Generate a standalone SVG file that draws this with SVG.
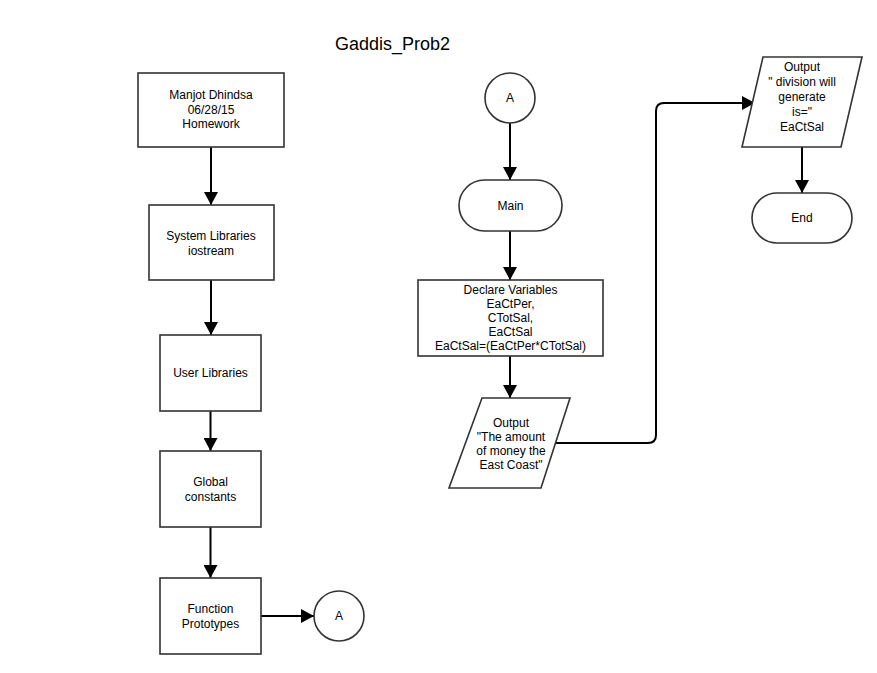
<svg xmlns="http://www.w3.org/2000/svg" width="877" height="673" viewBox="0 0 877 673">
<defs>
<style>
.shape{fill:#fff;stroke:#333;stroke-width:1.6}
.t{font-family:"Liberation Sans",Arial,sans-serif;font-size:12px;fill:#000;text-anchor:middle}
.title{font-family:"Liberation Sans",Arial,sans-serif;font-size:18px;fill:#000}
.c{fill:none;stroke:#000;stroke-width:2}
</style>
<marker id="ah" markerUnits="userSpaceOnUse" markerWidth="14" markerHeight="14" refX="13" refY="7" orient="auto">
<path d="M0,0 L13,7 L0,14 z" fill="#000"/>
</marker>
</defs>
<rect width="877" height="673" fill="#fff"/>
<text class="title" x="335" y="50">Gaddis_Prob2</text>

<g id="connectors">
<path class="c" marker-end="url(#ah)" d="M211,147 V205"/>
<path class="c" marker-end="url(#ah)" d="M211,280 V335"/>
<path class="c" marker-end="url(#ah)" d="M210.5,411 V451"/>
<path class="c" marker-end="url(#ah)" d="M210.5,527 V578"/>
<path class="c" marker-end="url(#ah)" d="M261,616 H314"/>
<path class="c" marker-end="url(#ah)" d="M510,123 V180"/>
<path class="c" marker-end="url(#ah)" d="M510,231 V280"/>
<path class="c" marker-end="url(#ah)" d="M510,356 V398"/>
<path class="c" marker-end="url(#ah)" d="M555,443 H648 Q656,443 656,435 V111 Q656,103 664,103 H755"/>
<path class="c" marker-end="url(#ah)" d="M802,147 V193"/>
</g>

<g id="n-manjot">
<rect class="shape" x="138" y="73" width="146" height="74"/>
<text class="t" x="211" y="99">Manjot Dhindsa</text>
<text class="t" x="211" y="113.5">06/28/15</text>
<text class="t" x="211" y="128">Homework</text>
</g>
<g id="n-syslib">
<rect class="shape" x="149" y="205" width="125" height="75"/>
<text class="t" x="211" y="240">System Libraries</text>
<text class="t" x="211" y="254.5">iostream</text>
</g>
<g id="n-userlib">
<rect class="shape" x="160" y="335" width="101" height="76"/>
<text class="t" x="210.5" y="377">User Libraries</text>
</g>
<g id="n-global">
<rect class="shape" x="160" y="451" width="101" height="76"/>
<text class="t" x="210.5" y="486">Global</text>
<text class="t" x="210.5" y="500.5">constants</text>
</g>
<g id="n-proto">
<rect class="shape" x="160" y="578" width="101" height="76"/>
<text class="t" x="210.5" y="613">Function</text>
<text class="t" x="210.5" y="627.5">Prototypes</text>
</g>
<g id="n-a1">
<circle class="shape" cx="339" cy="616" r="25"/>
<text class="t" x="339" y="620">A</text>
</g>
<g id="n-a2">
<circle class="shape" cx="510" cy="98" r="25"/>
<text class="t" x="510" y="102">A</text>
</g>
<g id="n-main">
<rect class="shape" x="459" y="180" width="103" height="51" rx="25.5" ry="25.5"/>
<text class="t" x="510.5" y="209.5">Main</text>
</g>
<g id="n-declare">
<rect class="shape" x="418" y="280" width="185" height="76"/>
<text class="t" x="510.5" y="294">Declare Variables</text>
<text class="t" x="510.5" y="308">EaCtPer,</text>
<text class="t" x="510.5" y="322">CTotSal,</text>
<text class="t" x="510.5" y="336">EaCtSal</text>
<text class="t" x="510.5" y="350">EaCtSal=(EaCtPer*CTotSal)</text>
</g>
<g id="n-out1">
<polygon class="shape" points="482,398 570,398 541,488 449,488"/>
<text class="t" x="511" y="427">Output</text>
<text class="t" x="511" y="441">"The amount</text>
<text class="t" x="511" y="455">of money the</text>
<text class="t" x="511" y="469">East Coast"</text>
</g>
<g id="n-out2">
<polygon class="shape" points="763,57 862,57 841,147 742,147"/>
<text class="t" x="802" y="71">Output</text>
<text class="t" x="802" y="86">" division will</text>
<text class="t" x="802" y="101">generate</text>
<text class="t" x="802" y="116">is="</text>
<text class="t" x="802" y="131">EaCtSal</text>
</g>
<g id="n-end">
<rect class="shape" x="752" y="193" width="100" height="50" rx="25" ry="25"/>
<text class="t" x="802" y="222">End</text>
</g>
</svg>
